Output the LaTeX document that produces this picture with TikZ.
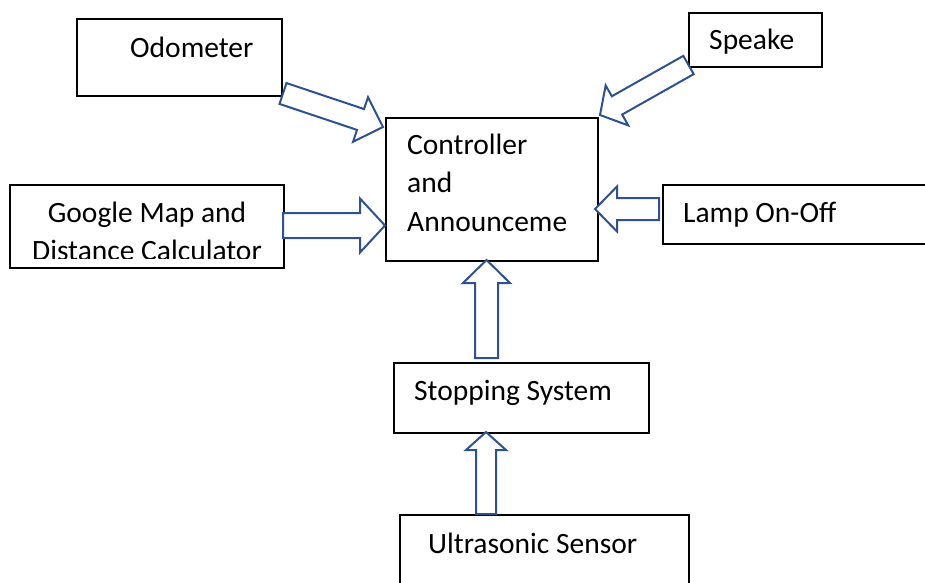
\documentclass[tikz,border=0pt]{standalone}
\usepackage{fontspec}
\setmainfont{Carlito}
\usetikzlibrary{calc}

\definecolor{arrowblue}{RGB}{47,82,143}

\tikzset{
    box/.style={draw, line width=1.5pt, anchor=north west, inner sep=0pt},
    txt/.style={anchor=base west, inner sep=0pt, font=\fontsize{29.5}{38.5}\selectfont},
    flow/.style={draw=arrowblue, line width=2pt, fill=white, line join=miter},
}

% hollow block arrow: tail, tip, shaft half width, head half width, head length
\newcommand{\hollowarrow}[5]{
    \coordinate (hb) at ($(#2)!#5!(#1)$);
    \path[flow]
        ($(#1)!#3!90:(#2)$) -- ($(hb)!#3!-90:(#1)$) -- ($(hb)!#4!-90:(#1)$)
        -- (#2) -- ($(hb)!#4!90:(#1)$) -- ($(hb)!#3!90:(#1)$)
        -- ($(#1)!#3!-90:(#2)$) -- cycle
    ;
}

\begin{document}
\begin{tikzpicture}[x=1pt, y=-1pt]
    \useasboundingbox (0,0) rectangle (925,582);

    % boxes
    \node[box, minimum width=205pt, minimum height=77pt] (odo) at (76,18) {};
    \node[box, minimum width=274pt, minimum height=83pt] (map) at (9,184) {};
    \node[box, minimum width=212pt, minimum height=143pt] (ctrl) at (385,117) {};
    \node[box, minimum width=133pt, minimum height=54pt] (spk) at (688,12) {};
    \node[box, minimum width=280pt, minimum height=59pt] (lamp) at (662,184) {};
    \node[box, minimum width=255pt, minimum height=70pt] (stop) at (393,362) {};
    \node[box, minimum width=289pt, minimum height=90pt] (ultra) at (399,514) {};

    % texts (multi-line nodes sit on their last baseline)
    \node[txt] (odo-t) at (130,57) {Odometer};
    \begin{scope}
        \clip (9,184) rectangle (283,258);
        \node[txt, anchor=base, align=center] (map-t) at (147,260.5)
            {Google Map and\\Distance Calculator};
    \end{scope}
    \node[txt, align=left] (ctrl-t) at (407,231) {Controller\\and\\Announceme};
    \node[txt] (spk-t) at (709,49) {Speake};
    \node[txt] (lamp-t) at (683,222) {Lamp On-Off};
    \node[txt] (stop-t) at (414,400) {Stopping System};
    \node[txt] (ultra-t) at (428,553) {Ultrasonic Sensor};

    % arrow ends
    \coordinate (odo-out) at (283,93.5);
    \coordinate (odo-in) at (383,127);
    \coordinate (map-out) at (283,225.5);
    \coordinate (map-in) at (385,225.5);
    \coordinate (spk-out) at (688.5,65);
    \coordinate (spk-in) at (600,115);
    \coordinate (lamp-out) at (659,209);
    \coordinate (lamp-in) at (595,209);
    \coordinate (stop-out) at (486.5,358);
    \coordinate (stop-in) at (486.5,260);
    \coordinate (ultra-out) at (486,514);
    \coordinate (ultra-in) at (486,432);

    % arrows
    \hollowarrow{odo-out}{odo-in}{11pt}{23.5pt}{23.7pt}
    \hollowarrow{map-out}{map-in}{12.5pt}{27pt}{25pt}
    \hollowarrow{spk-out}{spk-in}{10.5pt}{23pt}{19.5pt}
    \hollowarrow{lamp-out}{lamp-in}{11pt}{22.5pt}{22pt}
    \hollowarrow{stop-out}{stop-in}{11.5pt}{23.5pt}{23pt}
    \hollowarrow{ultra-out}{ultra-in}{10pt}{20pt}{18pt}
\end{tikzpicture}
\end{document}
